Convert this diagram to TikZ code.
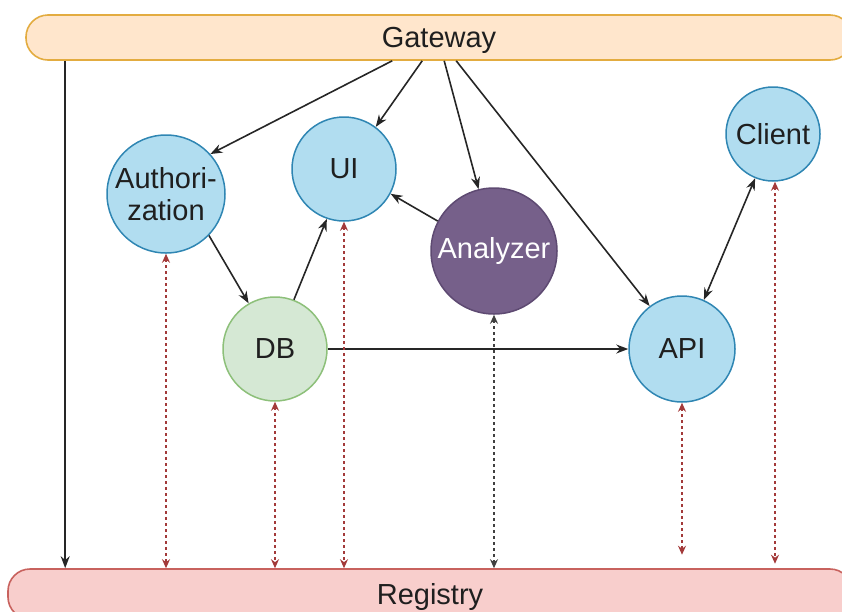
\documentclass[tikz,border=0pt]{standalone}
\usepackage{fontspec}
\setmainfont{Liberation Sans}
\usetikzlibrary{arrows.meta,calc}

\definecolor{gwfill}{HTML}{FFE6CC}
\definecolor{gwline}{HTML}{E3AC40}
\definecolor{regfill}{HTML}{F8CECC}
\definecolor{regline}{HTML}{C8625E}
\definecolor{svcfill}{HTML}{B1DDF0}
\definecolor{svcline}{HTML}{2F86B3}
\definecolor{dbfill}{HTML}{D5E8D4}
\definecolor{dbline}{HTML}{8DC07A}
\definecolor{anfill}{HTML}{76608A}
\definecolor{anline}{HTML}{5E4A72}
\definecolor{regarrow}{HTML}{A33A3A}

\begin{document}
\begin{tikzpicture}[x=1pt,y=-1pt,
  lbl/.style={font=\fontsize{29}{32}\selectfont, text=black!88},
  bar/.style={lbl, draw, line width=1.6pt, rounded corners=22pt, minimum height=45pt, inner sep=0pt, text depth=0pt},
  svc/.style={lbl, circle, draw=svcline, fill=svcfill, line width=1.5pt, inner sep=0pt, align=center},
  tip/.style={Stealth[length=12pt,width=9pt]},
  otip/.style={Stealth[open,length=9pt,width=8pt]},
  flow/.style={line width=1.6pt, draw=black!85, -{Stealth[length=12pt,width=9pt]}},
  both/.style={line width=1.6pt, draw=black!85, {Stealth[length=12pt,width=9pt]}-{Stealth[length=12pt,width=9pt]}},
  reg/.style={line width=2pt, draw=regarrow, dash pattern=on 3pt off 3pt,
    {Stealth[open,length=9pt,width=8pt]}-{Stealth[open,length=9pt,width=8pt]}},
]
\useasboundingbox (0,0) rectangle (842,611);
\clip (0,0) rectangle (842,611);

% bars
\node[bar, draw=gwline, fill=gwfill, minimum width=826pt] (gw) at (439,37.5) {Gateway};
\node[bar, draw=regline, fill=regfill, minimum width=844pt, minimum height=50pt] (reg) at (430,594) {Registry};

% services
\node[svc, minimum size=118pt] (auth) at (166,194) {Authori-\\zation};
\node[svc, minimum size=104pt] (ui) at (344,169) {UI};
\node[lbl, circle, draw=anline, fill=anfill, line width=1.5pt, inner sep=0pt, minimum size=126pt, text=white] (an) at (494,251) {Analyzer};
\node[svc, minimum size=94pt] (client) at (773,134) {Client};
\node[svc, minimum size=106pt] (api) at (682,349) {API};
\node[lbl, circle, draw=dbline, fill=dbfill, line width=1.5pt, inner sep=0pt, minimum size=104pt] (db) at (275,349) {DB};

% exits along the bottom edge of the gateway
\path (gw.south west) ++(40,0) coordinate (g0)
      (gw.south west) ++(367,0) coordinate (g1)
      (gw.south west) ++(397,0) coordinate (g2)
      (gw.south west) ++(419,0) coordinate (g3)
      (gw.south west) ++(431,0) coordinate (g4);

% request flow
\draw[flow] (g0) -- (g0 |- reg.north);
\draw[flow] (g1) -- (auth.42);
\draw[flow] (g2) -- (ui.53);
\draw[flow] (g3) -- (an.104);
\draw[flow] (g4) -- (api.127);
\draw[flow] (an.152) -- (ui.-28);
\draw[flow] (auth.-44) -- (db.120);
\draw[flow] (db.69) -- (ui.-109);
\draw[flow] (db.east) -- (api.west);
\draw[both] (client.248) -- (api.66);

% registry links
\coordinate (apiend) at ($(api.south)+(0,152)$);
\coordinate (clend) at ($(client.south)+(2,382)$);
\draw[reg] (auth.south) -- (auth.south |- reg.north);
\draw[reg] (db.south) -- (db.south |- reg.north);
\draw[reg, {Stealth[open,length=9pt,width=8pt]}-{Stealth[length=9pt,width=8pt]}] (ui.south) -- (ui.south |- reg.north);
\draw[reg, draw=black!75] (an.south) -- (an.south |- reg.north);
\draw[reg] (api.south) -- (apiend);
\draw[reg] ($(client.south)+(2,0)$) -- (clend);
\end{tikzpicture}
\end{document}
